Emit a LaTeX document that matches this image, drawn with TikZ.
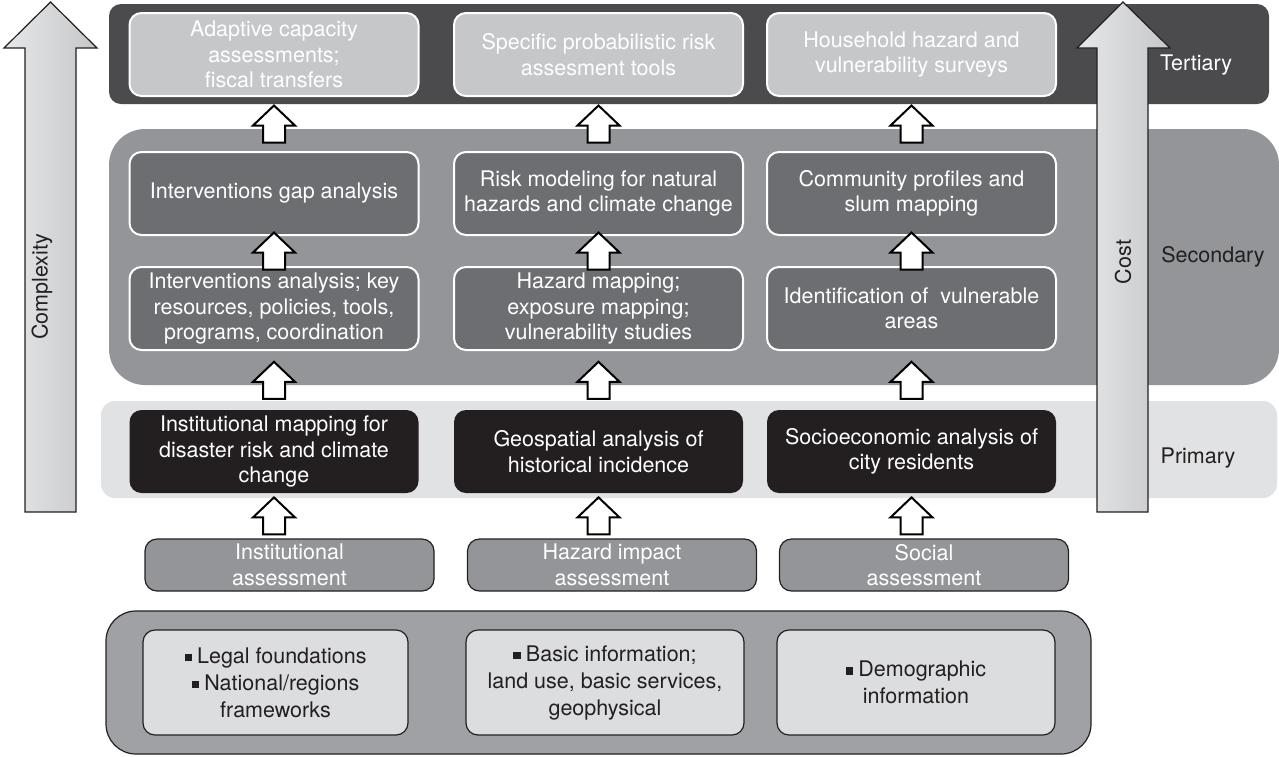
\documentclass[tikz,border=0pt]{standalone}
\usepackage{fontspec}
\setmainfont{TeX Gyre Heros}
\usepackage{tikz}
\usetikzlibrary{calc,positioning}
\definecolor{tergray}{HTML}{4B4B4D}
\definecolor{terbox}{HTML}{C6C7C9}
\definecolor{secgray}{HTML}{939598}
\definecolor{secbox}{HTML}{6D6E71}
\definecolor{prigray}{HTML}{E1E2E3}
\definecolor{pribox}{HTML}{231F20}
\definecolor{basegray}{HTML}{A0A1A4}
\definecolor{basebox}{HTML}{DCDDDF}
\definecolor{arrlight}{HTML}{E6E7E8}
\definecolor{arrdark}{HTML}{C6C7C9}

\newcommand{\sqb}{\rule[0.9pt]{3.8pt}{3.8pt}\hspace{2.5pt}}
% hollow block arrow, centred in the gap between upper #1 and lower #2
\newcommand{\blkarrow}[2]{%
	\draw[blkarr] let \p1=($(#1.south)!0.5!(#1.south|-#2.north)$) in
		(\x1-5.5pt,\y1-9.25pt) -- (\x1+5.5pt,\y1-9.25pt) -- (\x1+5.5pt,\y1-0.75pt) -- (\x1+10.5pt,\y1-0.75pt)
		-- (\x1,\y1+9.25pt) -- (\x1-10.5pt,\y1-0.75pt) -- (\x1-5.5pt,\y1-0.75pt) -- cycle;}

\tikzset{%
	every node/.style = {font=\fontsize{10.75}{12.75}\selectfont},
	box/.style    = {rectangle, rounded corners=6pt, minimum width=144.5pt, minimum height=41.5pt, inner sep=1pt, align=center},
	tbox/.style   = {box, fill=terbox, draw=white, line width=1pt, text=white}, % Tertiary
	sbox/.style   = {box, fill=secbox, draw=white, line width=1pt, text=white}, % Secondary
	pbox/.style   = {box, fill=pribox, text=white}, % Primary
	abox/.style   = {box, fill=secgray, draw=pribox, line width=0.6pt, minimum height=26pt, inner sep=0pt, text=white}, % Assessment
	bbox/.style   = {box, fill=basebox, draw=pribox, line width=0.6pt, minimum width=139pt, minimum height=52.5pt, text=pribox, font=\fontsize{10.75}{13.5}\selectfont}, % Base data
	lbl/.style    = {text=pribox},
	bigarr/.style = {draw=pribox, line width=0.6pt, left color=arrlight, right color=arrdark},
	blkarr/.style = {draw=black, fill=white, line width=1pt},
}

\begin{document}
\begin{tikzpicture}[x=0.5pt,y=-0.5pt]
		\useasboundingbox (0,0) rectangle (1279,756);
		
		% bands
		\fill[tergray, rounded corners=6pt] (109,4) rectangle (1269,104);
		\fill[secgray, rounded corners=18pt] (109,129) rectangle (1279,385);
		\fill[prigray, rounded corners=7pt] (101,401) rectangle (1277,498);
		\filldraw[fill=basegray, draw=pribox, line width=0.6pt, rounded corners=15pt] (106,611) rectangle (1091,754);
		
		% complexity and cost
		\shadedraw[bigarr] (25,512) -- (25,48) -- (4,48) -- (50.5,2) -- (97,48) -- (76,48) -- (76,512) -- cycle;
		\shadedraw[bigarr] (1097,512) -- (1097,48) -- (1077,48) -- (1123,2) -- (1170,48) -- (1148,48) -- (1148,512) -- cycle;
		\node [lbl,rotate=90] (cplx) at (42,287) {Complexity};
		\node [lbl,rotate=90] (cost) at (1123,262) {Cost};
		
		\node [text=white] (ter) at (1196,65) {Tertiary};
		\node [lbl] (sec) at (1213,257) {Secondary};
		\node [lbl] (pri) at (1198,458) {Primary};
		
		% tertiary
		\node [tbox] (adapt) at (274,54.5) {Adaptive capacity\\assessments;\\fiscal transfers};
		\node [tbox] (prob) [right of=adapt,node distance=162.25pt] {Specific probabilistic risk\\assesment tools};
		\node [tbox] (house) [right of=prob,node distance=156.5pt] {Household hazard and\\vulnerability surveys};
		
		% secondary
		\node [sbox] (gapan) at (274,193.5) {Interventions gap analysis};
		\node [sbox] (riskm) [right of=gapan,node distance=162.25pt] {Risk modeling for natural\\hazards and climate change};
		\node [sbox] (commp) [right of=riskm,node distance=156.5pt] {Community profiles and\\slum mapping};
		\node [sbox] (interv) at (274,308.5) {Interventions analysis; key\\resources, policies, tools,\\programs, coordination};
		\node [sbox] (hazmap) [right of=interv,node distance=162.25pt] {Hazard mapping;\\exposure mapping;\\vulnerability studies};
		\node [sbox] (vular) [right of=hazmap,node distance=156.5pt] {Identification of \ vulnerable\\areas};
		
		% primary
		\node [pbox] (instmap) at (274,451.5) {Institutional mapping for\\disaster risk and climate\\change};
		\node [pbox] (geosp) [right of=instmap,node distance=162.25pt] {Geospatial analysis of\\historical incidence};
		\node [pbox] (socio) [right of=geosp,node distance=156.5pt] {Socioeconomic analysis of\\city residents};
		
		% assessments
		\node [abox] (instas) at (289.5,565) {Institutional\\assessment};
		\node [abox] (hazas) [right of=instas,node distance=161.25pt] {Hazard impact\\assessment};
		\node [abox] (socas) [right of=hazas,node distance=156pt] {Social\\assessment};
		
		% base data
		\node [bbox,minimum width=132.5pt] (legal) at (275.5,682.5) {\sqb Legal foundations\\\sqb National/regions\\frameworks};
		\node [bbox] (basic) [right of=legal,node distance=164.75pt] {\sqb Basic information;\\land use, basic services,\\geophysical};
		\node [bbox] (demog) [right of=basic,node distance=155.5pt] {\sqb Demographic\\information};
		
		\blkarrow{adapt}{gapan}
		\blkarrow{prob}{riskm}
		\blkarrow{house}{commp}
		\blkarrow{gapan}{interv}
		\blkarrow{riskm}{hazmap}
		\blkarrow{commp}{vular}
		\blkarrow{interv}{instmap}
		\blkarrow{hazmap}{geosp}
		\blkarrow{vular}{socio}
		\blkarrow{instmap}{instas}
		\blkarrow{geosp}{hazas}
		\blkarrow{socio}{socas}
		\end{tikzpicture}
\end{document}
